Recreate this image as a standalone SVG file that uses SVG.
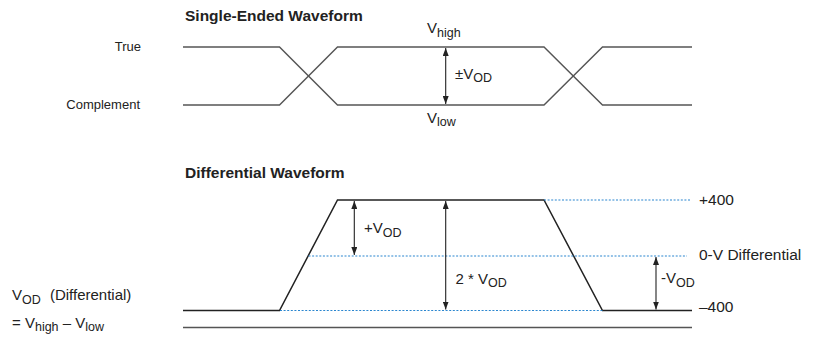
<svg xmlns="http://www.w3.org/2000/svg" width="813" height="354" viewBox="0 0 813 354">
<defs>
<marker id="ah" viewBox="0 0 8 6" refX="8" refY="3" markerWidth="8" markerHeight="6" markerUnits="userSpaceOnUse" orient="auto-start-reverse">
<path d="M0,0 L8,3 L0,6 z" fill="#222"/>
</marker>
<style>
text{font-family:"Liberation Sans",Arial,sans-serif;fill:#222;}
.ttl{font-size:15.5px;font-weight:bold;}
.lbl{font-size:13px;}
.v{font-size:15px;}
.sub{font-size:12.5px;}
.r{font-size:15.5px;}
.se{fill:none;stroke:#555;stroke-width:1.4;}
.wf{fill:none;stroke:#222;stroke-width:1.5;}
.rail{fill:none;stroke:#555;stroke-width:1.5;}
.dot{fill:none;stroke:#2a86cf;stroke-width:1.2;stroke-dasharray:2 1.6;}
.arr{stroke:#222;stroke-width:1.1;marker-start:url(#ah);marker-end:url(#ah);}
</style>
</defs>

<g id="title-single"><text class="ttl" x="185" y="21">Single-Ended Waveform</text></g>
<g id="label-true"><text class="lbl" x="141" y="51" text-anchor="end">True</text></g>
<g id="label-complement"><text class="lbl" x="140" y="109" text-anchor="end">Complement</text></g>

<g id="true-wave"><polyline class="se" points="183,47 279.5,47 337.5,105 544,105 602.5,47 692,47"/></g>
<g id="complement-wave"><polyline class="se" points="183,105 279.5,105 337.5,47 544,47 602.5,105 692,105"/></g>

<g id="label-vhigh"><text x="427" y="33"><tspan class="v">V</tspan><tspan class="sub" dy="3.5">high</tspan></text></g>
<g id="label-vlow"><text x="427" y="122.5"><tspan class="v">V</tspan><tspan class="sub" dy="3">low</tspan></text></g>
<g id="label-pmvod"><text x="455" y="78.5"><tspan class="v">±V</tspan><tspan class="sub" dy="3.5">OD</tspan></text></g>

<g id="title-diff"><text class="ttl" x="185" y="178">Differential Waveform</text></g>

<g id="diff-wave"><polyline class="wf" points="183,310.5 279.5,310.5 337.5,200 544,200 602.5,310.5 692,310.5"/></g>
<g id="rail"><line class="rail" x1="183" y1="327.5" x2="692" y2="327.5"/></g>

<g id="label-vod-diff">
<text x="12" y="300"><tspan class="v">V</tspan><tspan class="sub" dy="3.5">OD</tspan><tspan class="v" dx="5" dy="-4" font-size="14.5px"> (Differential)</tspan></text>
<text x="12" y="327.5"><tspan class="v">= V</tspan><tspan class="sub" dy="3.5">high</tspan><tspan class="v" dy="-3.5"> – V</tspan><tspan class="sub" dy="3.5">low</tspan></text>
</g>

<g id="label-plus-vod"><text x="364" y="232.5"><tspan class="v">+V</tspan><tspan class="sub" dy="4">OD</tspan></text></g>
<g id="label-2vod"><text x="455.5" y="283.5"><tspan class="v">2 * V</tspan><tspan class="sub" dy="3.5">OD</tspan></text></g>
<g id="label-minus-vod"><text x="661" y="282.5"><tspan class="v">-V</tspan><tspan class="sub" dy="4">OD</tspan></text></g>

<g id="label-p400"><text class="r" x="699" y="205">+400</text></g>
<g id="label-0v"><text class="r" x="699" y="259.5">0-V Differential</text></g>
<g id="label-m400"><text class="r" x="699" y="312">–400</text></g>

<g id="connectors">
<line class="arr" x1="445.7" y1="48" x2="445.7" y2="104"/>
<line class="dot" x1="544" y1="200" x2="690" y2="200"/>
<line class="dot" x1="308.5" y1="256" x2="687" y2="256"/>
<line class="dot" x1="280" y1="310.5" x2="602.5" y2="310.5"/>
<line class="arr" x1="354.3" y1="201" x2="354.3" y2="255"/>
<line class="arr" x1="445.7" y1="201" x2="445.7" y2="309.5"/>
<line class="arr" x1="656" y1="257" x2="656" y2="309.5"/>
</g>
</svg>
